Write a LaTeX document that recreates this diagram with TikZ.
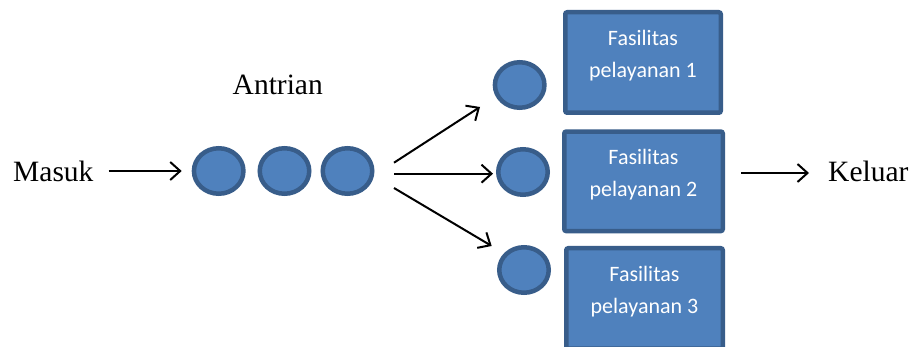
\documentclass[tikz,border=0pt]{standalone}
\usepackage{fontspec}
\setmainfont{Liberation Serif}
\newfontfamily\svcfont{Carlito}
\usetikzlibrary{arrows.meta,shapes.geometric}
\definecolor{qfill}{HTML}{4F81BD}
\definecolor{qline}{HTML}{385D8A}
\begin{document}
\begin{tikzpicture}[x=1pt,y=-1pt,
  cust/.style={ellipse,draw=qline,fill=qfill,line width=4.5pt,
    minimum width=49.5pt,minimum height=45.5pt,inner sep=0pt},
  svc/.style={rectangle,draw=qline,fill=qfill,line width=4.5pt,
    rounded corners=2pt,inner sep=0pt},
  svctext/.style={text=white,font=\svcfont\fontsize{22}{32}\selectfont,
    align=center,inner sep=0pt},
  word/.style={font=\fontsize{29.5}{34}\selectfont,inner sep=0pt,anchor=base west},
  flow/.style={line width=2pt,-{Straight Barb[length=10pt,width=18pt]}}
]
\useasboundingbox[fill=white] (0,0) rectangle (914,347);

% labels
\node[word] (masuk) at (13,182) {Masuk};
\node[word] (antrian) at (232.5,95) {Antrian};
\node[word] (keluar) at (828,182) {Keluar};

% waiting line
\node[cust] (q1) at (218.7,171) {};
\node[cust] (q2) at (284.5,171) {};
\node[cust] (q3) at (347.5,171) {};

% customers being served
\node[cust] (s1) at (519.7,85) {};
\node[cust] (s2) at (523,172) {};
\node[cust] (s3) at (524,270) {};

% service facilities
\node[svc,minimum width=155.5pt,minimum height=100.5pt] (b1) at (643,62.5) {};
\node[svc,minimum width=158.5pt,minimum height=99.5pt] (b2) at (643.5,181.3) {};
\node[svc,minimum width=156.5pt,minimum height=100.5pt] (b3) at (644.5,298.5) {};
\node[svctext] (t1) at ([yshift=7pt]b1.center) {Fasilitas\\pelayanan 1};
\node[svctext] (t2) at ([yshift=7pt]b2.center) {Fasilitas\\pelayanan 2};
\node[svctext] (t3) at ([yshift=7pt]b3.center) {Fasilitas\\pelayanan 3};

% arrivals
\draw[flow] ([xshift=15pt]masuk.east |- q1.center) -- ([xshift=-10pt]q1.west);

% split to the servers
\draw[flow] ([shift={(19.5,-8.3)}]q3.east) -- ([shift={(-39.7,22)}]s1.center);
\draw[flow] ([shift={(19.5,2.7)}]q3.east) -- ([shift={(-30,1.7)}]s2.center);
\draw[flow] ([shift={(19.5,17)}]q3.east) -- ([shift={(-32.3,-24)}]s3.center);

% departures
\coordinate (outstart) at ([shift={(16,-8.3)}]b2.east);
\draw[flow] (outstart) -- ([xshift=-19pt]keluar.west |- outstart);
\end{tikzpicture}
\end{document}
